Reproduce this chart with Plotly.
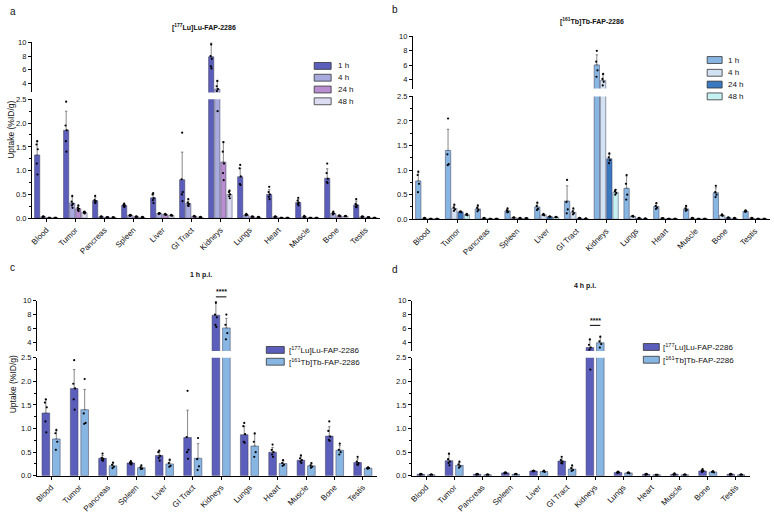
import plotly.graph_objects as go

W, H = 774, 522
FONT = "Liberation Sans, Arial, sans-serif"

organs = ["Blood", "Tumor", "Pancreas", "Spleen", "Liver", "GI Tract", "Kidneys",
          "Lungs", "Heart", "Muscle", "Bone", "Testis"]

# ---- [177Lu]Lu-FAP-2286 (means, SD, individual values) ----
lu_1h = [1.33, 1.85, 0.37, 0.27, 0.43, 0.81, 7.9, 0.87, 0.50, 0.33, 0.84, 0.28]
lu_1h_sd = [0.28, 0.40, 0.06, 0.03, 0.08, 0.58, 2.0, 0.18, 0.10, 0.07, 0.20, 0.08]
lu_4h = [0.03, 0.32, 0.03, 0.06, 0.10, 0.31, 3.2, 0.07, 0.03, 0.03, 0.10, 0.03]
lu_4h_sd = [0.01, 0.13, 0.01, 0.01, 0.01, 0.05, 1.1, 0.01, 0.01, 0.01, 0.03, 0.01]
lu_24h = [0.01, 0.20, 0.02, 0.03, 0.08, 0.04, 1.18, 0.03, 0.01, 0.01, 0.05, 0.02]
lu_24h_sd = [0.005, 0.05, 0.005, 0.01, 0.01, 0.01, 0.42, 0.01, 0.005, 0.005, 0.01, 0.005]
lu_48h = [0.01, 0.12, 0.02, 0.02, 0.06, 0.02, 0.50, 0.02, 0.01, 0.01, 0.04, 0.01]
lu_48h_sd = [0.005, 0.02, 0.005, 0.005, 0.01, 0.005, 0.07, 0.005, 0.005, 0.005, 0.01, 0.005]

lu_1h_pts = [[1.62, 1.55, 1.45, 1.15, 0.92], [2.45, 1.95, 1.85, 1.62, 1.4], [0.47, 0.38, 0.36, 0.33, 0.32],
             [0.31, 0.28, 0.27, 0.25, 0.24], [0.53, 0.5, 0.42, 0.38, 0.32], [1.8, 0.82, 0.55, 0.5, 0.36],
             [9.7, 8.0, 7.6, 6.5, 6.2], [1.12, 1.05, 0.88, 0.72, 0.7], [0.66, 0.55, 0.5, 0.45, 0.4],
             [0.43, 0.37, 0.33, 0.3, 0.27], [1.15, 0.95, 0.83, 0.76, 0.74], [0.4, 0.3, 0.27, 0.24, 0.23]]
lu_4h_pts = [[0.04, 0.03, 0.03, 0.02], [0.47, 0.35, 0.3, 0.27, 0.22], [0.04, 0.03, 0.03, 0.02],
             [0.07, 0.06, 0.06, 0.05], [0.11, 0.1, 0.1, 0.09], [0.4, 0.33, 0.3, 0.27, 0.26],
             [4.4, 3.6, 3.2, 2.9, 2.25], [0.09, 0.07, 0.07, 0.06], [0.04, 0.03, 0.03, 0.02],
             [0.05, 0.03, 0.03, 0.02], [0.14, 0.11, 0.1, 0.08], [0.04, 0.03, 0.03, 0.02]]
lu_24h_pts = [[0.01, 0.01, 0.01], [0.27, 0.22, 0.2, 0.17, 0.15], [0.02, 0.02, 0.02], [0.04, 0.03, 0.03],
              [0.09, 0.08, 0.07], [0.05, 0.04, 0.03], [1.6, 1.4, 1.15, 0.95, 0.8], [0.04, 0.03, 0.03],
              [0.01, 0.01, 0.01], [0.01, 0.01, 0.01], [0.06, 0.05, 0.04], [0.02, 0.02, 0.02]]
lu_48h_pts = [[0.01, 0.01, 0.01], [0.14, 0.13, 0.12, 0.11, 0.1], [0.02, 0.02, 0.01], [0.03, 0.02, 0.02],
              [0.07, 0.06, 0.05], [0.03, 0.02, 0.02], [0.58, 0.55, 0.5, 0.46, 0.42], [0.03, 0.02, 0.02],
              [0.01, 0.01, 0.01], [0.01, 0.01, 0.01], [0.05, 0.04, 0.04], [0.01, 0.01, 0.01]]

# ---- [161Tb]Tb-FAP-2286 ----
tb_1h = [0.78, 1.40, 0.21, 0.17, 0.25, 0.37, 6.05, 0.63, 0.26, 0.21, 0.54, 0.16]
tb_1h_sd = [0.17, 0.43, 0.05, 0.03, 0.07, 0.31, 1.4, 0.25, 0.06, 0.04, 0.10, 0.02]
tb_4h = [0.02, 0.22, 0.02, 0.03, 0.09, 0.14, 3.9, 0.06, 0.02, 0.02, 0.08, 0.02]
tb_4h_sd = [0.005, 0.06, 0.005, 0.01, 0.01, 0.05, 0.8, 0.01, 0.005, 0.005, 0.01, 0.005]
tb_24h = [0.01, 0.15, 0.01, 0.02, 0.05, 0.02, 1.23, 0.02, 0.01, 0.01, 0.03, 0.01]
tb_24h_sd = [0.005, 0.01, 0.005, 0.005, 0.005, 0.005, 0.09, 0.005, 0.005, 0.005, 0.005, 0.005]
tb_48h = [0.01, 0.09, 0.01, 0.02, 0.04, 0.01, 0.55, 0.01, 0.01, 0.01, 0.02, 0.01]
tb_48h_sd = [0.005, 0.02, 0.005, 0.005, 0.005, 0.005, 0.05, 0.005, 0.005, 0.005, 0.005, 0.005]

tb_1h_pts = [[0.97, 0.9, 0.72, 0.55], [2.05, 1.32, 1.12, 1.1], [0.28, 0.23, 0.19, 0.16], [0.22, 0.18, 0.15, 0.14],
             [0.34, 0.27, 0.21, 0.19], [0.8, 0.35, 0.2, 0.12], [8.0, 6.5, 5.3, 4.4], [0.9, 0.72, 0.5, 0.4],
             [0.33, 0.27, 0.23, 0.21], [0.27, 0.22, 0.19, 0.17], [0.68, 0.55, 0.5, 0.45], [0.18, 0.16, 0.16, 0.15]]
tb_4h_pts = [[0.03, 0.02, 0.02], [0.3, 0.24, 0.2, 0.17], [0.03, 0.02, 0.02], [0.04, 0.03, 0.03],
             [0.11, 0.09, 0.08], [0.22, 0.16, 0.12, 0.1], [4.8, 4.1, 3.7, 3.2], [0.07, 0.06, 0.05],
             [0.02, 0.02, 0.02], [0.03, 0.02, 0.02], [0.1, 0.08, 0.07], [0.03, 0.02, 0.02]]
tb_24h_pts = [[0.01, 0.01, 0.01], [0.16, 0.15, 0.14], [0.01, 0.01, 0.01], [0.03, 0.02, 0.02],
              [0.06, 0.05, 0.05], [0.03, 0.02, 0.02], [1.34, 1.26, 1.2, 1.14], [0.03, 0.02, 0.02],
              [0.01, 0.01, 0.01], [0.01, 0.01, 0.01], [0.04, 0.03, 0.03], [0.01, 0.01, 0.01]]
tb_48h_pts = [[0.01, 0.01, 0.01], [0.11, 0.09, 0.08], [0.01, 0.01, 0.01], [0.02, 0.02, 0.02],
              [0.05, 0.04, 0.04], [0.02, 0.01, 0.01], [0.6, 0.57, 0.53, 0.5], [0.02, 0.01, 0.01],
              [0.01, 0.01, 0.01], [0.01, 0.01, 0.01], [0.03, 0.02, 0.02], [0.01, 0.01, 0.01]]

up_ticks = [4, 6, 8, 10]
up_labels = ["4", "6", "8", "10"]

time_labels = ["1 h", "4 h", "24 h", "48 h"]
lu_colors = ["#5b5ebb", "#a9abdf", "#b98ed0", "#dcdcf3"]
tb_colors = ["#88b6e3", "#d3e2f3", "#3a78c0", "#c6f1f2"]
lu_name = "[<sup>177</sup>Lu]Lu-FAP-2286"
tb_name = "[<sup>161</sup>Tb]Tb-FAP-2286"

fig = go.Figure()
layout = {}
JIT = [0, -1, 1, -0.5, 0.5]


def px_x(a, b):
    return [a / W, b / W]


def px_y(top, bot):
    return [1 - bot / H, 1 - top / H]


def ax(kind, i):
    return (kind if i == 1 else f"{kind}{i}")


def add_panel(p, series, xdom, low, up, up_range, offsets, width):
    i_lo, i_up = 2 * p + 1, 2 * p + 2
    tickfont = dict(family=FONT, size=7.5, color="#111")
    layout[ax("xaxis", i_lo)] = dict(domain=px_x(*xdom), anchor=ax("y", i_lo), range=[-0.5, 11.5],
                                     tickmode="array", tickvals=list(range(12)), ticktext=organs, tickangle=-45,
                                     showline=True, linecolor="black", linewidth=1, ticks="outside",
                                     ticklen=3, tickcolor="black", tickfont=dict(family=FONT, size=8, color="#111"),
                                     showgrid=False, zeroline=False)
    layout[ax("xaxis", i_up)] = dict(domain=px_x(*xdom), anchor=ax("y", i_up), range=[-0.5, 11.5],
                                     visible=False)
    layout[ax("yaxis", i_lo)] = dict(domain=px_y(*low), anchor=ax("x", i_lo), range=[0, 2.5],
                                     tickmode="linear", tick0=0, dtick=0.5, tickformat=".1f",
                                     showline=True, linecolor="black", linewidth=1, ticks="outside",
                                     ticklen=3, tickcolor="black", tickfont=tickfont, showgrid=False,
                                     zeroline=False,
                                     minor=dict(ticks="outside", ticklen=2, tickcolor="black", dtick=0.25))
    layout[ax("yaxis", i_up)] = dict(domain=px_y(*up), anchor=ax("x", i_up), range=up_range,
                                     tickmode="array", tickvals=up_ticks, ticktext=up_labels,
                                     showline=True, linecolor="black", linewidth=1,
                                     ticks="outside", ticklen=3, tickcolor="black", tickfont=tickfont,
                                     showgrid=False, zeroline=False)
    for (vals, sd, pts, color), off in zip(series, offsets):
        for i_ax in (i_lo, i_up):
            fig.add_trace(go.Bar(
                x=list(range(12)), y=vals, width=width, offset=off,
                marker=dict(color=color, line=dict(color="#3c3c5a", width=0.5)),
                error_y=dict(type="data", symmetric=False, array=sd, arrayminus=[0] * 12,
                             color="#555555", thickness=0.7, width=1.2),
                xaxis=ax("x", i_ax), yaxis=ax("y", i_ax), showlegend=False, hoverinfo="skip"))
            xs, ys = [], []
            for k, grp in enumerate(pts):
                for m, v in enumerate(grp):
                    xs.append(k + off + width / 2 + JIT[m % 5] * width * 0.12)
                    ys.append(v)
            fig.add_trace(go.Scatter(x=xs, y=ys, mode="markers",
                                     marker=dict(color="black", size=2.2),
                                     xaxis=ax("x", i_ax), yaxis=ax("y", i_ax), showlegend=False,
                                     hoverinfo="skip"))


off4 = [-0.41, -0.20, 0.01, 0.22]
add_panel(0, [(lu_1h, lu_1h_sd, lu_1h_pts, lu_colors[0]), (lu_4h, lu_4h_sd, lu_4h_pts, lu_colors[1]),
              (lu_24h, lu_24h_sd, lu_24h_pts, lu_colors[2]), (lu_48h, lu_48h_sd, lu_48h_pts, lu_colors[3])],
          (30, 379), (97, 218), (39, 90), [2.7, 10], off4, 0.18)
add_panel(1, [(tb_1h, tb_1h_sd, tb_1h_pts, tb_colors[0]), (tb_4h, tb_4h_sd, tb_4h_pts, tb_colors[1]),
              (tb_24h, tb_24h_sd, tb_24h_pts, tb_colors[2]), (tb_48h, tb_48h_sd, tb_48h_pts, tb_colors[3])],
          (412, 770), (94, 219), (33, 86), [2.77, 10], off4, 0.18)
off2 = [-0.32, 0.05]
add_panel(2, [(lu_1h, lu_1h_sd, lu_1h_pts, "#5b5ebb"), (tb_1h, tb_1h_sd, tb_1h_pts, "#88b6e3")],
          (35, 376), (360, 480), (302, 353), [2.71, 10], off2, 0.27)
add_panel(3, [(lu_4h, lu_4h_sd, lu_4h_pts, "#5b5ebb"), (tb_4h, tb_4h_sd, tb_4h_pts, "#88b6e3")],
          (411, 750), (360, 480), (302, 353), [2.71, 10], off2, 0.27)

annotations = []
shapes = []


def text(x, y, s, size=8, anchor="center", bold=False, angle=0):
    annotations.append(dict(x=x / W, y=1 - y / H, xref="paper", yref="paper", text=(f"<b>{s}</b>" if bold else s),
                            showarrow=False, xanchor=anchor, yanchor="middle", textangle=angle,
                            font=dict(family=FONT, size=size, color="#111")))


# panel letters
text(6, 8, "a", 10, "left")
text(389, 6, "b", 10, "left")
text(6, 268, "c", 10, "left")
text(389, 270, "d", 10, "left")
# titles
text(203, 24, lu_name, 7, bold=True)
text(592, 18, tb_name, 7, bold=True)
text(200, 276, "1 h p.i.", 7, bold=True)
text(585, 287, "4 h p.i.", 7, bold=True)
# y titles
text(9, 128, "Uptake (%ID/g)", 8.5, angle=-90)
text(11, 387, "Uptake (%ID/g)", 8.5, angle=-90)


def legend_box(x0, x1, yc, color, h=7):
    shapes.append(dict(type="rect", xref="paper", yref="paper", x0=x0 / W, x1=x1 / W,
                       y0=1 - (yc + h / 2) / H, y1=1 - (yc - h / 2) / H,
                       fillcolor=color, line=dict(color="#333333", width=0.8)))


for lab, col, yc in zip(time_labels, lu_colors, [63, 75, 87, 99]):
    legend_box(313, 330, yc, col)
    text(335, yc, lab, 8, "left")
for lab, col, yc in zip(time_labels, tb_colors, [57, 70, 82, 94]):
    legend_box(707, 722, yc, col)
    text(726, yc, lab, 8, "left")
for lab, col, yc in zip([lu_name, tb_name], ["#5b5ebb", "#88b6e3"], [352, 364]):
    legend_box(265, 283, yc, col)
    text(286, yc, lab, 8, "left")
for lab, col, yc in zip([lu_name, tb_name], ["#5b5ebb", "#88b6e3"], [349, 362]):
    legend_box(643, 659, yc, col)
    text(661, yc, lab, 8, "left")


# significance brackets above kidneys
def sig(xdom, ytop, yline, w=0.27):
    a, b = xdom
    step = (b - a) / 12.0
    xl = a + (6 + 0.5 + off2[0] + w / 2) * step
    xr = a + (6 + 0.5 + off2[1] + w / 2) * step
    shapes.append(dict(type="line", xref="paper", yref="paper", x0=xl / W, x1=xr / W,
                       y0=1 - yline / H, y1=1 - yline / H, line=dict(color="black", width=1)))
    text((xl + xr) / 2, ytop, "<b>****</b>", 7)


sig((35, 376), 293, 298)
sig((411, 750), 322, 327)

fig.update_layout(**layout)
fig.update_layout(width=W, height=H, margin=dict(l=0, r=0, t=0, b=0), barmode="overlay",
                  paper_bgcolor="white", plot_bgcolor="white", annotations=annotations, shapes=shapes,
                  font=dict(family=FONT, size=8, color="#111"))
fig.write_html("out.html")
